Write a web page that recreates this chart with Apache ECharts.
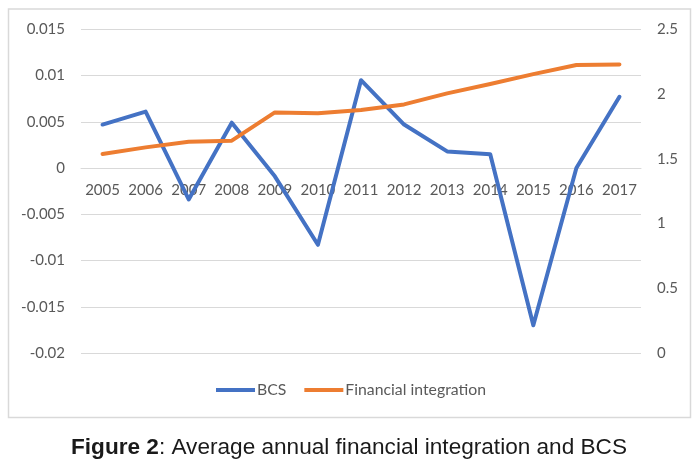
<!DOCTYPE html>
<html>
<head>
<meta charset="utf-8">
<script src="https://cdn.jsdelivr.net/npm/echarts@6/dist/echarts.min.js"></script>
<style>
html,body{margin:0;padding:0;background:#fff;}
#chart{width:698px;height:464px;}
</style>
</head>
<body>
<div id="chart"></div>
<script>
const years = ['2005','2006','2007','2008','2009','2010','2011','2012','2013','2014','2015','2016','2017'];
const bcs = [0.0047, 0.0061, -0.0034, 0.0049, -0.0009, -0.0083, 0.0095, 0.0047, 0.0018, 0.0015, -0.0170, 0.0000, 0.0077];
const financialIntegration = [1.537, 1.588, 1.632, 1.640, 1.858, 1.851, 1.876, 1.920, 2.005, 2.077, 2.154, 2.224, 2.229];
const seriesNames = ['BCS', 'Financial integration'];
const captionBold = 'Figure 2';
const captionRest = ': Average annual financial integration and BCS';

const labelFont = 'Lato, "Open Sans", sans-serif';
const gridTop = 29.3, gridBottomY = 353;
const yMin = -0.02, yMax = 0.015;
// x axis sits on the zero of the left value axis
const zeroY = gridTop + (yMax - 0) / (yMax - yMin) * (gridBottomY - gridTop);

const chart = echarts.init(document.getElementById('chart'), null, {renderer: 'canvas'});
chart.setOption({
  animation: false,
  backgroundColor: '#ffffff',
  title: {
    text: '{b|' + captionBold + '}{n|' + captionRest + '}',
    left: 'center',
    top: 436,
    padding: 0,
    textStyle: {
      rich: {
        b: {fontFamily: '"Liberation Sans", Arial, sans-serif', fontWeight: 'bold', fontSize: 22.6, color: '#1a1a1a'},
        n: {fontFamily: '"Liberation Sans", Arial, sans-serif', fontWeight: 'normal', fontSize: 22.6, color: '#1a1a1a'}
      }
    }
  },
  graphic: [{
    type: 'rect',
    shape: {x: 8.5, y: 9, width: 682, height: 408.5},
    style: {fill: 'none', stroke: '#d9d9d9', lineWidth: 1.5},
    silent: true
  }],
  legend: {
    data: seriesNames,
    left: 216,
    top: 382,
    padding: 0,
    itemWidth: 39,
    itemHeight: 4,
    itemGap: 18,
    icon: 'rect',
    textStyle: {fontFamily: labelFont, fontSize: 15.8, color: '#595959', padding: [0, 0, 0, -3]}
  },
  grid: {left: 81, right: 57, top: gridTop, bottom: 464 - gridBottomY, containLabel: false},
  xAxis: {
    type: 'category',
    data: years,
    boundaryGap: true,
    position: 'bottom',
    offset: zeroY - gridBottomY,
    axisLine: {show: true, onZero: false, lineStyle: {color: '#d9d9d9', width: 1}},
    axisTick: {show: false},
    axisLabel: {interval: 0, margin: 15, fontFamily: labelFont, fontSize: 15, color: '#595959'}
  },
  yAxis: [{
    type: 'value',
    min: yMin, max: yMax, interval: 0.005,
    axisLine: {show: false},
    axisTick: {show: false},
    splitLine: {lineStyle: {color: '#d9d9d9', width: 1}},
    axisLabel: {margin: 16, fontFamily: labelFont, fontSize: 15, color: '#595959',
      formatter: v => String(+v.toFixed(3))}
  }, {
    type: 'value',
    min: 0, max: 2.5, interval: 0.5,
    axisLine: {show: false},
    axisTick: {show: false},
    splitLine: {show: false},
    axisLabel: {margin: 16, fontFamily: labelFont, fontSize: 15, color: '#595959',
      formatter: v => String(+v.toFixed(1))}
  }],
  series: [{
    name: seriesNames[0],
    type: 'line',
    data: bcs,
    yAxisIndex: 0,
    symbol: 'none',
    showSymbol: false,
    itemStyle: {color: '#4472C4'},
    lineStyle: {color: '#4472C4', width: 4, join: 'round', cap: 'round'}
  }, {
    name: seriesNames[1],
    type: 'line',
    data: financialIntegration,
    yAxisIndex: 1,
    symbol: 'none',
    showSymbol: false,
    itemStyle: {color: '#ED7D31'},
    lineStyle: {color: '#ED7D31', width: 4, join: 'round', cap: 'round'}
  }]
});
</script>
</body>
</html>
